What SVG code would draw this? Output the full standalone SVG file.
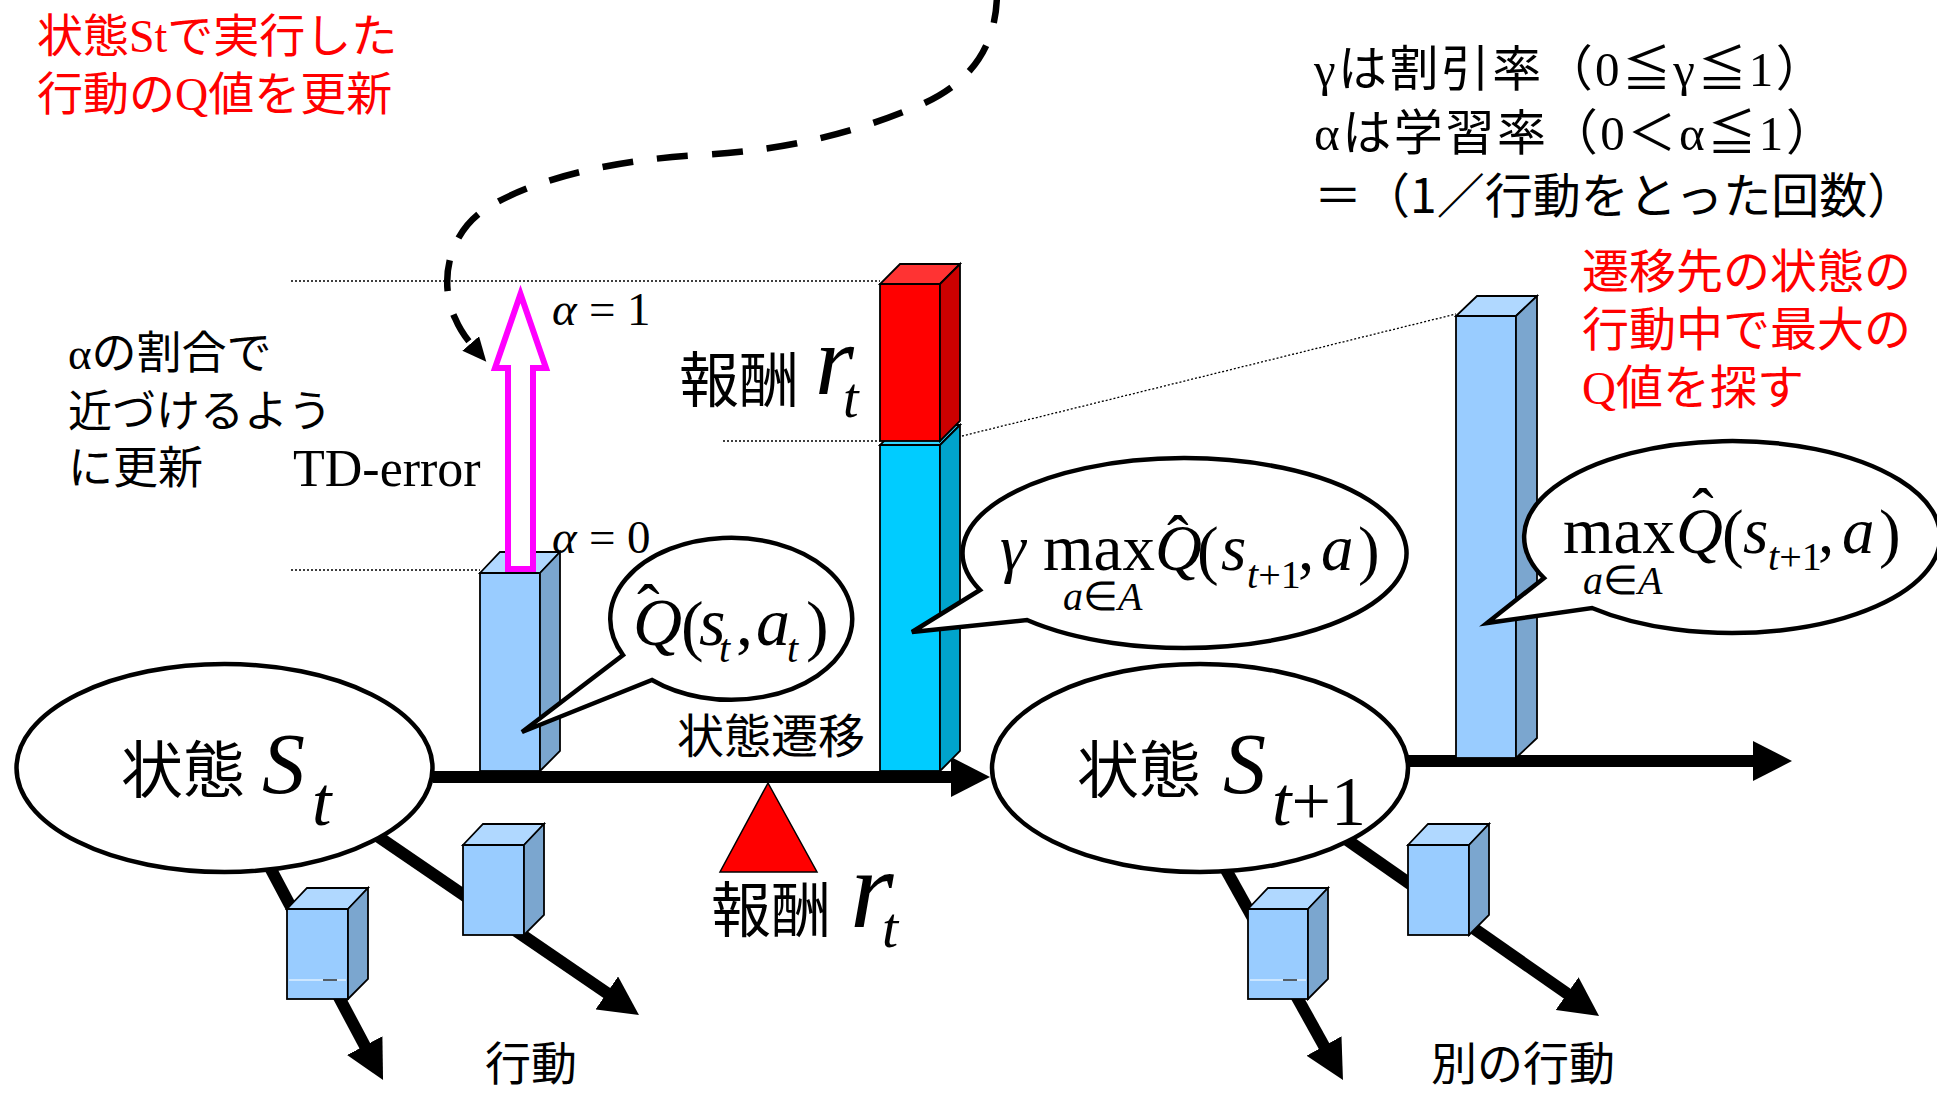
<svg xmlns="http://www.w3.org/2000/svg" width="1937" height="1093" viewBox="0 0 1937 1093">
<style>
.jp{font-family:"Noto Sans CJK JP",sans-serif;fill:#000}
.mx{font-family:"Liberation Serif","Noto Sans CJK JP",serif;fill:#000}
.mi{font-family:"Liberation Serif",serif;font-style:italic;fill:#000}
.mu{font-family:"Liberation Serif",serif;font-style:normal;fill:#000}
.it{font-style:italic}
.red{fill:#FF0000}
.node-ell{fill:#fff;stroke:#000;stroke-width:4.5}
.bub{fill:#fff;stroke:#000;stroke-width:4.5;stroke-linejoin:miter}
.thick{stroke:#000;stroke-width:12;fill:none}
.dot{stroke:#000;stroke-width:1.3;stroke-dasharray:2 2;fill:none}
.bf{fill:#99CCFF;stroke:#000;stroke-width:1.8}
.bt{fill:#B0D8FF;stroke:#000;stroke-width:1.8}
.bs{fill:#7BA6CF;stroke:#000;stroke-width:1.8}
.rf{fill:#FF0000;stroke:#000;stroke-width:1.8}
.rt{fill:#FF3333;stroke:#000;stroke-width:1.8}
.rs{fill:#CC0000;stroke:#000;stroke-width:1.8}
.cf{fill:#00CCFF;stroke:#000;stroke-width:1.8}
.ct{fill:#33D6FF;stroke:#000;stroke-width:1.8}
.cs{fill:#00A3CC;stroke:#000;stroke-width:1.8}
</style>
<defs>
<marker id="ah" markerUnits="userSpaceOnUse" viewBox="0 0 40 40" markerWidth="40" markerHeight="40" refX="1" refY="20" orient="auto"><path d="M0,0 L39,20 L0,40 z" fill="#000"/></marker>
<marker id="ahs" markerUnits="userSpaceOnUse" viewBox="0 0 24 22" markerWidth="24" markerHeight="22" refX="2" refY="11" orient="auto"><path d="M0,0 L24,11 L0,22 z" fill="#000"/></marker>
</defs>

<!-- connectors -->
<g id="connectors">
  <line class="dot" x1="291" y1="281" x2="880" y2="281"/>
  <line class="dot" x1="291" y1="570" x2="480" y2="570"/>
  <line class="dot" x1="723" y1="441" x2="880" y2="441"/>
  <line class="dot" x1="962" y1="436" x2="1456" y2="314"/>
  <path class="thick" d="M433,777 L952,777" marker-end="url(#ah)"/>
  <path class="thick" d="M1400,761 L1754,761" marker-end="url(#ah)"/>
  <path class="thick" d="M258,845 L365.2,1046.5" marker-end="url(#ah)"/>
  <path class="thick" d="M370,831 L607.6,993.5" marker-end="url(#ah)"/>
  <path class="thick" d="M1215,850 L1324.5,1046.8" marker-end="url(#ah)"/>
  <path class="thick" d="M1330,828 L1567.9,994.2" marker-end="url(#ah)"/>
  <path d="M997,-8 C997,45 972,85 913,108 C855,132 790,150 700,155 C610,160 530,180 484,210 C445,237 440,287 455,318 C460,330 466,338 472,345" fill="none" stroke="#000" stroke-width="6.5" stroke-dasharray="31 24" marker-end="url(#ahs)"/>
</g>

<!-- state nodes -->
<g id="state-t">
  <ellipse class="node-ell" cx="224.5" cy="768" rx="208" ry="104"/>
  <text font-size="62"><tspan class="jp" x="121" y="793">状態</tspan><tspan class="mi" x="262" y="793" font-size="86">S</tspan><tspan class="mi" x="312" y="825" font-size="70">t</tspan></text>
</g>
<g id="state-t1">
  <ellipse class="node-ell" cx="1200" cy="768" rx="208" ry="104"/>
  <text font-size="62"><tspan class="jp" x="1077" y="793">状態</tspan><tspan class="mi" x="1223" y="793" font-size="86">S</tspan><tspan class="mi" x="1272" y="825" font-size="70">t</tspan><tspan class="mu" font-size="70">+1</tspan></text>
</g>

<!-- action boxes -->
<g id="action-box-a">
  <rect class="bf" x="287" y="909" width="61" height="90"/>
  <polygon class="bt" points="287,909 348,909 368,888 307,888"/>
  <polygon class="bs" points="348,909 368,888 368,979 348,999"/>
  <line x1="289" y1="980" x2="346" y2="980" stroke="#fff" stroke-width="1.2"/>
  <line x1="323" y1="980" x2="337" y2="980" stroke="#000" stroke-width="1.2"/>
</g>
<g id="action-box-b">
  <rect class="bf" x="463" y="845" width="61" height="90"/>
  <polygon class="bt" points="463,845 524,845 544,824 483,824"/>
  <polygon class="bs" points="524,845 544,824 544,915 524,935"/>
</g>
<g id="action-box-c">
  <rect class="bf" x="1248" y="909" width="60" height="90"/>
  <polygon class="bt" points="1248,909 1308,909 1328,888 1268,888"/>
  <polygon class="bs" points="1308,909 1328,888 1328,979 1308,999"/>
  <line x1="1250" y1="980" x2="1306" y2="980" stroke="#fff" stroke-width="1.2"/>
  <line x1="1283" y1="980" x2="1297" y2="980" stroke="#000" stroke-width="1.2"/>
</g>
<g id="action-box-d">
  <rect class="bf" x="1408" y="845" width="61" height="90"/>
  <polygon class="bt" points="1408,845 1469,845 1489,824 1428,824"/>
  <polygon class="bs" points="1469,845 1489,824 1489,915 1469,935"/>
</g>

<!-- Q value bar -->
<g id="bar-q">
  <rect class="bf" x="480" y="573" width="60" height="198"/>
  <polygon class="bt" points="480,573 540,573 560,552 500,552"/>
  <polygon class="bs" points="540,573 560,552 560,751 540,771"/>
</g>
<g id="td-arrow">
  <polygon points="508,569 508,368 495,368 520.5,294 546,368 533,368 533,569" fill="#fff" stroke="#FF00FF" stroke-width="6" stroke-linejoin="miter"/>
</g>

<!-- target bar -->
<g id="bar-target">
  <rect class="cf" x="880" y="445" width="60" height="326"/>
  <polygon class="ct" points="880,445 940,445 960,425 900,425"/>
  <polygon class="cs" points="940,445 960,425 960,751 940,771"/>
  <rect class="rf" x="880" y="284" width="60" height="157"/>
  <polygon class="rt" points="880,284 940,284 960,264 900,264"/>
  <polygon class="rs" points="940,284 960,264 960,421 940,441"/>
</g>

<!-- next max bar -->
<g id="bar-max">
  <rect class="bf" x="1456" y="316" width="60" height="442"/>
  <polygon class="bt" points="1456,316 1516,316 1537,296 1477,296"/>
  <polygon class="bs" points="1516,316 1537,296 1537,738 1516,758"/>
</g>

<!-- reward triangle -->
<g id="reward">
  <polygon points="768,783 720,872 817,872" fill="#FF0000" stroke="#000" stroke-width="1.5"/>
  <text font-size="60"><tspan class="jp" x="711" y="932">報酬</tspan><tspan class="mi" x="850" y="927" font-size="112">r</tspan><tspan class="mi" x="882" y="947" font-size="58">t</tspan></text>
</g>

<!-- bubbles -->
<g id="bubble-q">
  <path class="bub" d="M652,680 A121,81 0 1 0 623,655 L522,732 Z"/>
  <text class="mu" font-size="68"><tspan class="it" x="633" y="645">Q</tspan><tspan x="637" y="631">ˆ</tspan><tspan x="681" y="648">(</tspan><tspan class="it" x="699" y="645">s</tspan><tspan class="it" x="719" y="662" font-size="40">t</tspan><tspan x="736" y="645">,</tspan><tspan class="it" x="756" y="645">a</tspan><tspan class="it" x="787" y="662" font-size="40">t</tspan><tspan x="806" y="648">)</tspan></text>
</g>
<g id="bubble-gamma">
  <path class="bub" d="M1027,620 A222,95 0 1 0 980,590 L912,632 Z"/>
  <text class="mu" font-size="65"><tspan class="it" x="1000" y="570">γ</tspan><tspan x="1043" y="570">max</tspan><tspan class="it" x="1155" y="570">Q</tspan><tspan x="1167" y="561">ˆ</tspan><tspan x="1197" y="572">(</tspan><tspan class="it" x="1221" y="570">s</tspan><tspan class="it" x="1247" y="588" font-size="40">t</tspan><tspan font-size="40">+1</tspan><tspan x="1298" y="570">,</tspan><tspan class="it" x="1321" y="570">a</tspan><tspan x="1358" y="572">)</tspan><tspan class="it" x="1063" y="610" font-size="40">a</tspan><tspan font-size="40">∈</tspan><tspan class="it" font-size="40">A</tspan></text>
</g>
<g id="bubble-max">
  <path class="bub" d="M1592,608 A208,96 0 1 0 1544,578 L1487,623 Z"/>
  <text class="mu" font-size="65"><tspan x="1563" y="553">max</tspan><tspan class="it" x="1676" y="553">Q</tspan><tspan x="1692" y="534">ˆ</tspan><tspan x="1722" y="555">(</tspan><tspan class="it" x="1743" y="553">s</tspan><tspan class="it" x="1768" y="570" font-size="40">t</tspan><tspan font-size="40">+1</tspan><tspan x="1818" y="553">,</tspan><tspan class="it" x="1842" y="553">a</tspan><tspan x="1879" y="555">)</tspan><tspan class="it" x="1583" y="594" font-size="40">a</tspan><tspan font-size="40">∈</tspan><tspan class="it" font-size="40">A</tspan></text>
</g>

<!-- labels -->
<g id="labels">
  <text class="mx red" x="37" y="52" font-size="46">状態Stで実行した</text>
  <text class="mx red" x="37" y="110" font-size="46">行動のQ値を更新</text>
  <text class="mx" x="1314" y="86" font-size="49" letter-spacing="2.4">γは割引率（0≦γ≦1）</text>
  <text class="mx" x="1314" y="150" font-size="49" letter-spacing="2.6">αは学習率（0＜α≦1）</text>
  <text class="jp" x="1314" y="213" font-size="48">＝（1／行動をとった回数）</text>
  <text class="mx red" x="1582" y="288" font-size="47">遷移先の状態の</text>
  <text class="mx red" x="1582" y="346" font-size="47">行動中で最大の</text>
  <text class="mx red" x="1582" y="404" font-size="47">Q値を探す</text>
  <text class="mx" x="68" y="369" font-size="45">αの割合で</text>
  <text class="mx" x="68" y="427" font-size="44">近づけるよう</text>
  <text class="mx" x="68" y="484" font-size="45">に更新</text>
  <text class="mu" x="293" y="486" font-size="52">TD-error</text>
  <text class="mu" x="552" y="325" font-size="47"><tspan class="it">α</tspan><tspan x="589">=</tspan><tspan x="627">1</tspan></text>
  <text class="mu" x="552" y="553" font-size="47"><tspan class="it">α</tspan><tspan x="589">=</tspan><tspan x="627">0</tspan></text>
  <text font-size="60"><tspan class="jp" x="679" y="402">報酬</tspan><tspan class="mi" x="815" y="394" font-size="100">r</tspan><tspan class="mi" x="843" y="417" font-size="56">t</tspan></text>
  <text class="jp" x="677" y="753" font-size="47">状態遷移</text>
  <text class="jp" x="485" y="1080" font-size="46">行動</text>
  <text class="jp" x="1431" y="1080" font-size="46">別の行動</text>
</g>
</svg>
